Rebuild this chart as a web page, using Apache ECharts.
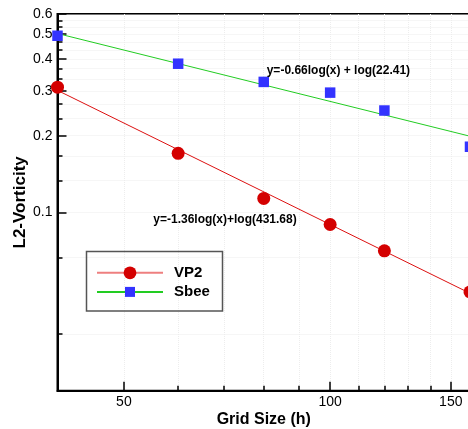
<!DOCTYPE html>
<html>
<head>
<meta charset="utf-8">
<title>L2-Vorticity vs Grid Size</title>
<script src="https://cdn.jsdelivr.net/npm/echarts@6/dist/echarts.min.js"></script>
<style>
  html, body { margin: 0; padding: 0; background: #fff; }
  #chart { width: 468px; height: 429px; }
</style>
</head>
<body>
<div id="chart"></div>
<script>
// 数据 (从图上读出来的)
var gridSize = [40, 60, 80, 100, 120, 160];
var vp2 = [0.310, 0.1705, 0.1135, 0.0897, 0.0707, 0.0488];
var sbee = [0.493, 0.383, 0.325, 0.295, 0.251, 0.181];

// 拟合直线的两个端点
var fitRange = [40, 160];
var vp2Fit = [0.301, 0.0482];
var sbeeFit = [0.503, 0.199];

// 刻度
var xMajorTicks = [50, 100, 150];
var xMinorTicks = [60, 70, 80, 90, 110, 120, 130, 140];
var yMajorTicks = [0.1, 0.2, 0.3, 0.4, 0.5, 0.6];
var yMinorTicks = [0.0333, 0.0667, 0.1333, 0.1667, 0.2333, 0.2667, 0.3333, 0.3667,
  0.4333, 0.4667, 0.5333, 0.5667];

function pairs(xs, ys) {
  var out = [];
  for (var i = 0; i < xs.length; i++) out.push([xs[i], ys[i]]);
  return out;
}

var font = 'Liberation Sans, Arial, Helvetica, sans-serif';
var gridLine = { show: true, lineStyle: { color: '#ededed', type: 'dotted', width: 1 } };

var chart = echarts.init(document.getElementById('chart'));

var option = {
  animation: false,
  backgroundColor: '#fff',
  grid: {
    left: 57.5, top: 14, right: -2, bottom: 38.3,
    outerBoundsMode: 'none', containLabel: false,
    show: true, borderColor: '#000', borderWidth: 2
  },
  // x轴: 主刻度 + 次刻度 (两个重叠的轴)
  xAxis: [{
    type: 'log', min: 40, max: 160, position: 'bottom',
    name: 'Grid Size (h)', nameLocation: 'middle', nameGap: 21, nameMoveOverlap: false,
    nameTextStyle: { fontFamily: font, fontSize: 16, fontWeight: 'bold', color: '#000' },
    axisLine: { lineStyle: { color: '#000', width: 2 } },
    axisTick: { inside: true, length: 9, customValues: xMajorTicks, lineStyle: { color: '#000', width: 1.5 } },
    axisLabel: {
      customValues: xMajorTicks, margin: 4,
      fontFamily: font, fontSize: 14, color: '#000',
      formatter: function (v) { return String(Math.round(v)); }
    },
    splitLine: gridLine
  }, {
    type: 'log', min: 40, max: 160, position: 'bottom',
    axisLine: { show: false },
    axisTick: { inside: true, length: 5, customValues: xMinorTicks, lineStyle: { color: '#000', width: 1.5 } },
    axisLabel: { show: false },
    splitLine: gridLine
  }],
  // y轴: 对数轴
  yAxis: [{
    type: 'log', min: 0.02, max: 0.6, position: 'left',
    name: 'L2-Vorticity', nameLocation: 'middle', nameGap: 29, nameMoveOverlap: false,
    nameTextStyle: { fontFamily: font, fontSize: 17, fontWeight: 'bold', color: '#000' },
    axisLine: { show: true, lineStyle: { color: '#000', width: 2 } },
    axisTick: { show: true, inside: true, length: 9, customValues: yMajorTicks, lineStyle: { color: '#000', width: 1.5 } },
    axisLabel: {
      customValues: yMajorTicks, margin: 5,
      fontFamily: font, fontSize: 14, color: '#000',
      formatter: function (v) { return (Math.round(v * 10) / 10).toString(); }
    },
    splitLine: gridLine
  }, {
    type: 'log', min: 0.02, max: 0.6, position: 'left',
    axisLine: { show: false },
    axisTick: { show: true, inside: true, length: 5, customValues: yMinorTicks, lineStyle: { color: '#000', width: 1.5 } },
    axisLabel: { show: false },
    splitLine: gridLine
  }],
  // 图例 (两个, 让圆和方块大小不同)
  legend: [{
    data: ['VP2'], left: 96, top: 265.3, padding: 0,
    itemWidth: 66, itemHeight: 16,
    lineStyle: { color: '#ee7f7f', width: 2 },
    textStyle: { fontFamily: font, fontSize: 15, fontWeight: 'bold', color: '#000', padding: [0, 0, 0, 6] }
  }, {
    data: ['Sbee'], left: 96, top: 284.4, padding: 0,
    itemWidth: 66, itemHeight: 12.5,
    textStyle: { fontFamily: font, fontSize: 15, fontWeight: 'bold', color: '#000', padding: [0, 0, 0, 6] }
  }],
  graphic: [{
    type: 'rect', left: 84, top: 249, silent: true, z: 100,
    shape: { width: 136, height: 59.5 },
    style: { fill: 'none', stroke: '#555', lineWidth: 1.5 }
  }, {
    type: 'text', left: 266.7, top: 64.5, z: 100,
    style: { text: 'y=-0.66log(x) + log(22.41)', font: 'bold 12px ' + font, fill: '#000' }
  }, {
    type: 'text', left: 153.3, top: 214, z: 100,
    style: { text: 'y=-1.36log(x)+log(431.68)', font: 'bold 12px ' + font, fill: '#000' }
  }],
  series: [{
    name: 'VP2', type: 'line', data: pairs(fitRange, vp2Fit),
    symbol: 'circle', symbolSize: 13, showSymbol: false,
    lineStyle: { color: '#dc1010', width: 1 },
    itemStyle: { color: '#d40000' }, z: 2
  }, {
    name: 'VP2', type: 'scatter', data: pairs(gridSize, vp2),
    symbol: 'circle', symbolSize: 13, clip: false,
    itemStyle: { color: '#d40000', opacity: 1 }, z: 3
  }, {
    name: 'Sbee', type: 'line', data: pairs(fitRange, sbeeFit),
    symbol: 'rect', symbolSize: 10.5, showSymbol: false,
    lineStyle: { color: '#22cc22', width: 1 },
    itemStyle: { color: '#3333ff' }, z: 2
  }, {
    name: 'Sbee', type: 'scatter', data: pairs(gridSize, sbee),
    symbol: 'rect', symbolSize: 10.5, clip: false,
    itemStyle: { color: '#3333ff', opacity: 1 }, z: 3
  }]
};

chart.setOption(option);
</script>
</body>
</html>
